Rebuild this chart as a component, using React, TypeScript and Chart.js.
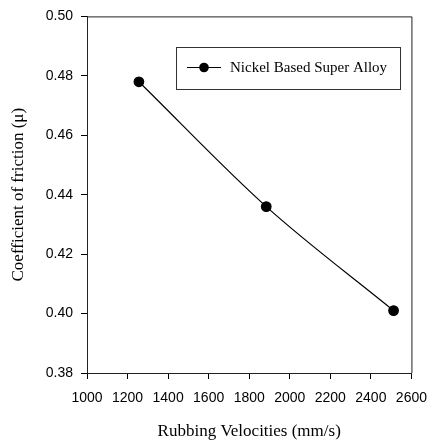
import React, { useEffect, useRef } from "react";
import { Chart, registerables } from "chart.js";

Chart.register(...registerables);

const seriesLabel = "Nickel Based Super Alloy";
const velocities = [1256, 1884, 2512];
const friction = [0.478, 0.436, 0.401];
const xTitle = "Rubbing Velocities (mm/s)";
const yTitle = "Coefficient of friction (\u03bc)";

const framePlugin = {
  id: "frameAndLegend",
  afterDraw(chart: any) {
    const { ctx, chartArea } = chart;
    ctx.save();
    ctx.strokeStyle = "#222";
    ctx.lineWidth = 1;
    ctx.beginPath();
    ctx.moveTo(chartArea.left, chartArea.top + 0.5);
    ctx.lineTo(chartArea.right + 0.5, chartArea.top + 0.5);
    ctx.lineTo(chartArea.right + 0.5, chartArea.bottom);
    ctx.stroke();
    // legend box
    const bx = 176.5, by = 47.5, bw = 224, bh = 42;
    ctx.strokeStyle = "#333";
    ctx.strokeRect(bx, by, bw, bh);
    const cy = 67.5;
    ctx.strokeStyle = "#000";
    ctx.beginPath();
    ctx.moveTo(187, cy);
    ctx.lineTo(221, cy);
    ctx.stroke();
    ctx.fillStyle = "#000";
    ctx.beginPath();
    ctx.arc(204, cy, 4.8, 0, Math.PI * 2);
    ctx.fill();
    ctx.font = "15px 'Liberation Serif'";
    ctx.textBaseline = "middle";
    ctx.textAlign = "left";
    ctx.fillText(chart.data.datasets[0].label, 230, cy + 1);
    ctx.restore();
  },
};

export default function App() {
  const ref = useRef<HTMLCanvasElement | null>(null);
  useEffect(() => {
    document.body.style.margin = "0";
    const chart = new Chart(ref.current as HTMLCanvasElement, {
      type: "line",
      data: {
        datasets: [
          {
            label: seriesLabel,
            data: velocities.map((v, i) => ({ x: v, y: friction[i] })),
            borderColor: "#000",
            backgroundColor: "#000",
            borderWidth: 1.2,
            pointRadius: 4.8,
            pointHoverRadius: 4.8,
            cubicInterpolationMode: "monotone",
            fill: false,
          },
        ],
      },
      options: {
        animation: false,
        responsive: true,
        maintainAspectRatio: false,
        layout: { padding: { top: 15, right: 16, left: 0, bottom: 0 } },
        plugins: { legend: { display: false }, tooltip: { enabled: false } },
        scales: {
          x: {
            type: "linear",
            min: 1000,
            max: 2600,
            afterFit: (s: any) => {
              s.height = 72;
            },
            ticks: {
              stepSize: 200,
              color: "#000",
              padding: 11,
              maxRotation: 0,
              font: { family: "'Liberation Sans'", size: 14 },
              callback: (v: any) => String(v),
            },
            grid: { drawOnChartArea: false, tickLength: 6, color: "#000" },
            border: { color: "#222" },
            title: {
              display: true,
              text: xTitle,
              color: "#000",
              font: { family: "'Liberation Serif'", size: 17 },
              padding: { top: 0, bottom: 3 },
            },
          },
          y: {
            min: 0.38,
            max: 0.5,
            afterFit: (s: any) => {
              s.width = 87;
            },
            ticks: {
              stepSize: 0.02,
              color: "#000",
              padding: 8,
              font: { family: "'Liberation Sans'", size: 14 },
              callback: (v: any) => Number(v).toFixed(2),
            },
            grid: { drawOnChartArea: false, tickLength: 6, color: "#000" },
            border: { color: "#222" },
            title: {
              display: true,
              text: yTitle,
              color: "#000",
              font: { family: "'Liberation Serif'", size: 17 },
              padding: { top: 8, bottom: 0 },
            },
          },
        },
      },
      plugins: [framePlugin],
    });
    return () => chart.destroy();
  }, []);
  return (
    <div style={{ position: "absolute", left: 0, top: 0, width: 438, height: 445 }}>
      <canvas ref={ref} />
    </div>
  );
}
